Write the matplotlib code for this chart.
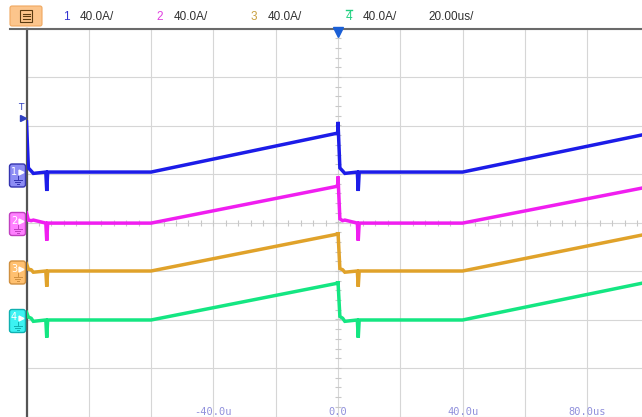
import matplotlib
matplotlib.use('Agg')
import matplotlib.pyplot as plt
import numpy as np
from matplotlib.patches import FancyBboxPatch

W, H = 642, 417

# time points (us), shared by all channels
t_us = [-100.0, -99.4, -98.5, -97.8, -93.8, -93.5, -93.2, -60.0,
        0.0, 0.0, 0.6, 1.5, 2.2, 6.2, 6.5, 6.8, 40.0, 100.0]

# channel currents (A)
ch1_A = [43, 5, 2.5, 0.5, 1.6, -14, 1.6, 1.6, 33.8, 43, 5, 2.5, 0.5, 1.6, -14, 1.6, 1.6, 33.5]
ch2_A = [8, 2, 1.5, 2, -0.5, -15, -0.5, -0.5, 30, 38, 3, 1.5, 2, -0.5, -15, -0.5, -0.5, 29.6]
ch3_A = [6, 1.5, 1, -1, 0, -13, 0, 0, 30.5, 32, 2, 1, -1, 0, -13, 0, 0, 30.9]
ch4_A = [6, 2, 1, -1.5, -0.4, -15, -0.4, -0.4, 30, 31.5, 2.5, 1, -1.5, -0.4, -15, -0.4, -0.4, 31.2]

channels = ['1', '2', '3', '4']
offsets_div = [1, 0, -1, -2]
amps_per_div = 40.0
scale_labels = ['40.0A/', '40.0A/', '40.0A/', '40.0A/']
timebase_label = '20.00us/'
x_tick_pos = [-40, 0, 40, 80]
x_tick_labels = ['-40.0u', '0.0', '40.0u', '80.0us']

trace_colors = ['#1c1ce8', '#f01ef0', '#e0a22a', '#14e682']
title_colors = ['#3434d0', '#e040e0', '#c8a040', '#20d080']
box_fill = ['#8c8cf4', '#ff80ff', '#ffc070', '#3cf2f2']
box_edge = ['#3434b0', '#c040c0', '#d09040', '#10b0b0']

fig = plt.figure(figsize=(W / 100, H / 100), dpi=100)
ax = fig.add_axes([26.5 / W, 0.5 / H, 623 / W, 388 / H])
ax.set_xlim(-100, 100)
ax.set_ylim(-4, 4)
ax.set_xticks(np.arange(-100, 101, 20))
ax.set_yticks(np.arange(-4, 5, 1))
ax.grid(True, color='#d6d6d6', lw=0.8)
ax.tick_params(length=0, labelbottom=False, labelleft=False)
for s in ['top', 'right', 'bottom']:
    ax.spines[s].set_visible(False)
ax.spines['left'].set_color('#555555')
ax.spines['left'].set_linewidth(1.6)

# small ticks on the centre lines
ax.plot(np.arange(-100, 101, 4), np.zeros(51), ls='none', marker='|',
        ms=5, mew=0.8, color='#c8c8c8')
ax.plot(np.zeros(41), np.arange(-4, 4.01, 0.2), ls='none', marker='_',
        ms=5, mew=0.8, color='#c8c8c8')

for vals, off, col in zip([ch1_A, ch2_A, ch3_A, ch4_A], offsets_div, trace_colors):
    ax.plot(t_us, off + np.array(vals) / amps_per_div, color=col, lw=2.5,
            solid_joinstyle='miter', zorder=3)

for xp, lab in zip(x_tick_pos, x_tick_labels):
    ax.text(xp, -3.9, lab, ha='center', va='center', fontsize=7.5,
            family='DejaVu Sans Mono', color='#9090dc')

# overlay in pixel coordinates for the scope decorations
ov = fig.add_axes([0, 0, 1, 1], zorder=5)
ov.set_xlim(0, W)
ov.set_ylim(H, 0)
ov.axis('off')
ov.patch.set_alpha(0)

fig.canvas.draw()
def to_px(x, y):
    dx, dy = ax.transData.transform((x, y))
    return dx, H - dy

# top frame line
ov.plot([10, W], [28.5, 28.5], color='#6a6a6a', lw=1.5)

# menu button
ov.add_patch(FancyBboxPatch((10, 6), 32, 20, boxstyle='round,pad=0,rounding_size=2',
                            fc='#fcc58c', ec='#f0a860', lw=0.8))
ov.add_patch(FancyBboxPatch((20, 10), 12, 12, boxstyle='square,pad=0',
                            fc='none', ec='#5a3a10', lw=0.8))
for yy in [13.5, 16, 18.5]:
    ov.plot([22.5, 29.5], [yy, yy], color='#5a3a10', lw=0.8)

# channel scale readouts
num_x = [66, 160, 254, 349]
for n, x, col, lab in zip(channels, num_x, title_colors, scale_labels):
    ov.text(x, 17, n, ha='center', va='center', fontsize=8.5,
            family='Liberation Sans', color=col)
    ov.text(x + 14, 17, lab, ha='left', va='center', fontsize=8.5,
            family='Liberation Sans', color='#303030')
ov.plot([346, 352], [10, 10], color=title_colors[3], lw=1)
ov.text(428, 17, timebase_label, ha='left', va='center', fontsize=8.5,
        family='Liberation Sans', color='#303030')

# trigger position marker on top
tx, _ = to_px(0, 4)
ov.plot([tx], [32], marker='v', ms=7, color='#1a5fd6', mec='#1a5fd6')

# trigger level marker
ov.text(21, 107, 'T', ha='center', va='center', fontsize=6.5, color='#3040c0')
ov.plot([23], [118], marker='>', ms=4.5, color='#3040c0')

# channel ground markers
for n, off, fc, ec in zip(channels, offsets_div, box_fill, box_edge):
    _, py = to_px(-100, off)
    ov.add_patch(FancyBboxPatch((9.5, py - 10), 16, 23,
                                boxstyle='round,pad=0,rounding_size=2.5',
                                fc=fc, ec=ec, lw=1))
    ov.text(14, py - 2, n, ha='center', va='center', fontsize=7, color='white')
    ov.plot([20.5], [py - 2], marker='>', ms=3.5, color='white')
    ov.plot([17.5, 17.5], [py + 2, py + 6], color=ec, lw=0.7)
    ov.plot([13.5, 21.5], [py + 6, py + 6], color=ec, lw=0.7)
    ov.plot([15, 20], [py + 8, py + 8], color=ec, lw=0.7)
    ov.plot([16.5, 18.5], [py + 10, py + 10], color=ec, lw=0.7)

fig.savefig('out.png', dpi=100)
